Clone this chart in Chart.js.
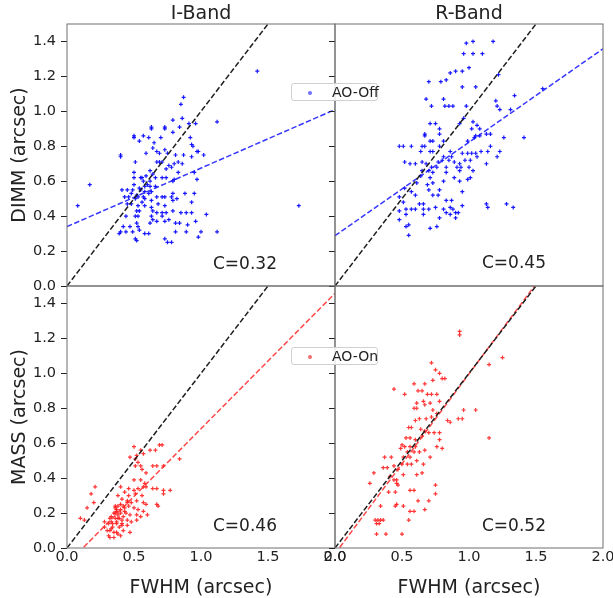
<!DOCTYPE html>
<html lang="en">
<head>
<meta charset="UTF-8">
<title>FWHM vs DIMM / MASS seeing</title>
<script src="https://cdn.jsdelivr.net/npm/chart.js"></script>
<style>
  body { margin: 0; background: #fff; }
  #figure { position: relative; width: 613px; height: 598px; font-family: "DejaVu Sans", sans-serif; color: #222; overflow: hidden; }
  #figure canvas { position: absolute; left: 0; top: 0; }
  .txt { position: absolute; white-space: nowrap; line-height: 1; }
  .big { font-size: 19px; transform: translate(-50%, -50%); }
  .rot { font-size: 19px; transform: translate(-50%, -50%) rotate(-90deg); }
  .corr { font-size: 17px; transform: translateY(-50%); }
  .legend { position: absolute; width: 87px; height: 18px; box-sizing: border-box; border: 1px solid #d0d0d0; border-radius: 3px; background: rgba(255,255,255,0.85); font-size: 14px; white-space: nowrap; }
  .legend .dot { position: absolute; left: 16px; top: 7px; width: 4px; height: 4px; border-radius: 50%; }
  .legend .lbl { position: absolute; left: 40px; top: 0px; line-height: 16px; }
</style>
</head>
<body>
<div id="figure">
  <canvas id="iOff" width="613" height="598"></canvas>
  <canvas id="rOff" width="613" height="598"></canvas>
  <canvas id="iOn" width="613" height="598"></canvas>
  <canvas id="rOn" width="613" height="598"></canvas>

  <div class="txt big" style="left:201px; top:12px;">I-Band</div>
  <div class="txt big" style="left:469px; top:12px;">R-Band</div>
  <div class="txt rot" style="left:18px; top:155px;">DIMM (arcsec)</div>
  <div class="txt rot" style="left:18px; top:417px;">MASS (arcsec)</div>
  <div class="txt big" style="left:201px; top:586px;">FWHM (arcsec)</div>
  <div class="txt big" style="left:469px; top:586px;">FWHM (arcsec)</div>

  <div class="legend" style="left:291px; top:83px;"><span class="dot" style="background:#7070ff;"></span><span class="lbl">AO-Off</span></div>
  <div class="legend" style="left:291px; top:347px;"><span class="dot" style="background:#f07070;"></span><span class="lbl">AO-On</span></div>
</div>
<script>
// [FWHM, seeing] pairs in arcsec
const iBandAoOff = [
  [0.08,0.46],[0.17,0.58],[1.42,1.23],[1.73,0.46],[1.12,0.94],[1.12,0.31],[1.04,0.41],
  [0.87,1.08],[0.85,1.04],[0.96,0.93],[0.91,0.93],[0.84,0.91],[0.79,0.95],[0.73,0.90],[0.63,0.90],
  [0.79,0.88],[0.50,0.85],[0.54,0.83],[0.61,0.85],[0.65,0.82],[0.70,0.85],[0.93,0.81],[0.94,0.80],
  [0.64,0.79],[0.67,0.77],[0.73,0.78],[0.75,0.76],[0.69,0.76],[0.59,0.76],[0.40,0.74],[0.81,0.75],
  [0.87,0.75],[0.93,0.74],[0.97,0.77],[1.02,0.75],[0.67,0.71],[0.69,0.71],[0.71,0.71],[0.76,0.69],
  [0.80,0.70],[0.83,0.71],[0.86,0.70],[0.51,0.71],[0.78,0.68],[0.74,0.67],[0.83,0.65],[0.95,0.65],
  [0.62,0.66],[0.64,0.64],[0.59,0.63],[0.56,0.62],[0.50,0.65],[0.50,0.62],[0.66,0.62],[0.71,0.62],
  [0.74,0.62],[0.80,0.61],[0.79,0.60],[0.97,0.61],[0.41,0.55],[0.45,0.55],[0.49,0.55],[0.54,0.56],
  [0.58,0.57],[0.62,0.57],[0.66,0.57],[0.61,0.53],[0.63,0.54],[0.57,0.51],[0.53,0.51],[0.51,0.50],
  [0.46,0.51],[0.43,0.51],[0.58,0.50],[0.63,0.49],[0.67,0.51],[0.71,0.51],[0.73,0.51],[0.78,0.51],
  [0.79,0.53],[0.88,0.53],[0.95,0.53],[0.68,0.47],[0.73,0.46],[0.79,0.49],[0.82,0.50],[0.93,0.48],
  [0.45,0.47],[0.48,0.47],[0.53,0.46],[0.58,0.46],[0.52,0.43],[0.54,0.43],[0.63,0.45],[0.64,0.43],
  [0.71,0.42],[0.74,0.42],[0.67,0.42],[0.79,0.43],[0.85,0.42],[0.89,0.42],[0.93,0.42],[0.44,0.40],
  [0.51,0.40],[0.53,0.40],[0.63,0.40],[0.64,0.38],[0.71,0.40],[0.73,0.37],[0.67,0.37],[0.76,0.38],
  [0.52,0.36],[0.62,0.36],[0.81,0.36],[0.84,0.36],[0.47,0.34],[0.53,0.34],[0.54,0.32],[0.58,0.30],
  [0.39,0.30],[0.44,0.31],[0.49,0.31],[0.61,0.30],[0.73,0.27],[0.51,0.27],[0.81,0.31],[1.00,0.31],
  [0.98,0.28],[0.42,0.34],[0.90,0.35],[0.96,0.37],[0.52,0.26],[0.75,0.25],[0.78,0.25],[0.89,0.31],
  [0.40,0.31],[0.40,0.75],[0.50,0.86],[0.57,0.86],[0.63,0.91],[0.73,0.91],[0.86,0.96],[0.92,0.85],
  [0.98,0.77],[0.55,0.55],[0.57,0.60],[0.52,0.52],[0.60,0.58],[0.58,0.54],[0.55,0.62],[0.62,0.60],
  [0.50,0.58],[0.48,0.53],[0.56,0.48]
];
const rBandAoOff = [
  [0.98,1.39],[1.03,1.40],[1.18,1.40],[0.96,1.33],[1.03,1.33],[1.10,1.33],[1.00,1.25],[0.95,1.23],
  [0.90,1.23],[0.86,1.22],[0.83,1.18],[0.79,1.17],[0.70,1.17],[0.95,1.14],[1.05,1.14],[1.22,1.21],
  [0.68,1.07],[0.81,1.07],[0.72,1.03],[0.82,1.03],[0.85,1.03],[0.88,1.03],[0.98,1.03],[1.20,1.06],
  [1.21,1.03],[1.34,1.09],[1.23,1.01],[1.31,1.01],[0.96,0.96],[0.71,0.93],[0.75,0.93],[0.93,0.93],
  [1.03,0.94],[1.06,0.92],[1.02,0.90],[0.78,0.90],[1.08,0.90],[0.67,0.87],[0.78,0.87],[0.67,0.86],
  [1.05,0.86],[1.13,0.87],[1.16,0.87],[1.26,0.85],[1.41,0.85],[0.71,0.83],[0.73,0.83],[0.81,0.83],
  [0.99,0.83],[1.04,0.85],[1.08,0.86],[0.48,0.80],[0.51,0.80],[0.57,0.80],[0.65,0.80],[0.67,0.80],
  [0.78,0.80],[1.16,0.80],[0.64,0.77],[0.71,0.77],[0.73,0.77],[0.86,0.77],[0.95,0.76],[0.99,0.76],
  [1.02,0.76],[1.05,0.76],[1.09,0.77],[1.14,0.77],[1.23,0.77],[0.81,0.74],[0.87,0.74],[1.06,0.74],
  [1.21,0.74],[0.52,0.71],[0.56,0.70],[0.60,0.70],[0.65,0.71],[0.68,0.70],[0.77,0.71],[0.80,0.72],
  [0.85,0.72],[0.89,0.71],[0.93,0.70],[0.97,0.72],[1.01,0.72],[1.13,0.70],[0.72,0.68],[0.76,0.68],
  [0.83,0.68],[0.91,0.68],[0.94,0.68],[1.00,0.68],[0.65,0.66],[0.70,0.66],[0.73,0.65],[0.83,0.65],
  [0.93,0.66],[1.03,0.66],[0.64,0.63],[0.71,0.62],[0.89,0.62],[0.99,0.61],[1.01,0.62],[0.61,0.59],
  [0.73,0.59],[0.81,0.60],[0.93,0.60],[0.69,0.58],[0.70,0.55],[0.78,0.55],[0.95,0.54],[0.52,0.56],
  [0.57,0.54],[0.73,0.52],[0.77,0.52],[0.48,0.51],[0.60,0.52],[0.51,0.48],[0.63,0.47],[0.66,0.47],
  [0.83,0.49],[0.87,0.49],[0.53,0.44],[0.57,0.44],[0.60,0.44],[0.66,0.44],[0.70,0.44],[0.75,0.45],
  [0.81,0.44],[0.86,0.45],[0.88,0.44],[0.95,0.46],[1.13,0.47],[1.14,0.45],[1.28,0.47],[1.33,0.45],
  [0.48,0.43],[0.53,0.41],[0.66,0.41],[0.83,0.42],[0.86,0.41],[0.90,0.39],[0.78,0.39],[0.48,0.38],
  [0.53,0.34],[0.55,0.35],[0.71,0.33],[0.76,0.34],[0.55,0.29],[0.90,0.42],[0.92,0.42],[1.55,1.13]
];
const iBandAoOn = [
  [0.50,0.58],[0.55,0.56],[0.57,0.54],[0.62,0.56],[0.66,0.56],[0.69,0.59],[0.71,0.59],[0.47,0.52],
  [0.51,0.51],[0.53,0.49],[0.51,0.47],[0.55,0.47],[0.56,0.45],[0.59,0.43],[0.64,0.47],[0.67,0.47],
  [0.72,0.47],[0.84,0.51],[0.50,0.39],[0.55,0.39],[0.58,0.37],[0.59,0.35],[0.57,0.35],[0.53,0.34],
  [0.64,0.34],[0.67,0.34],[0.72,0.33],[0.77,0.33],[0.72,0.31],[0.40,0.35],[0.43,0.32],[0.46,0.34],
  [0.50,0.33],[0.51,0.31],[0.46,0.30],[0.56,0.30],[0.38,0.30],[0.41,0.28],[0.45,0.27],[0.48,0.26],
  [0.52,0.27],[0.57,0.26],[0.59,0.25],[0.67,0.25],[0.38,0.24],[0.42,0.24],[0.46,0.24],[0.50,0.23],
  [0.53,0.22],[0.57,0.21],[0.36,0.23],[0.35,0.20],[0.37,0.21],[0.40,0.20],[0.43,0.21],[0.47,0.19],
  [0.52,0.19],[0.55,0.18],[0.32,0.17],[0.36,0.17],[0.38,0.17],[0.41,0.16],[0.45,0.16],[0.48,0.15],
  [0.31,0.14],[0.34,0.14],[0.37,0.14],[0.41,0.13],[0.45,0.13],[0.28,0.12],[0.30,0.10],[0.33,0.11],
  [0.37,0.09],[0.42,0.10],[0.31,0.07],[0.35,0.06],[0.40,0.07],[0.47,0.09],[0.32,0.06],[0.28,0.15],
  [0.21,0.35],[0.18,0.31],[0.20,0.26],[0.15,0.23],[0.10,0.17],[0.13,0.16],[0.52,0.53],[0.33,0.18],
  [0.36,0.20],[0.38,0.19],[0.40,0.22],[0.37,0.15],[0.39,0.12],[0.34,0.12],[0.42,0.18],[0.36,0.24],
  [0.40,0.25],[0.44,0.20],[0.35,0.09],[0.38,0.08],[0.33,0.15],[0.41,0.14],[0.37,0.22],[0.39,0.17],
  [0.43,0.23],[0.45,0.26],[0.32,0.10],[0.68,0.24],[0.60,0.19],[0.52,0.16]
];
const rBandAoOn = [
  [0.93,1.24],[0.93,1.22],[1.25,1.09],[1.15,1.05],[0.72,1.06],[0.75,1.02],[0.78,1.00],[0.80,0.97],
  [0.82,0.97],[0.73,0.96],[0.67,0.94],[0.59,0.94],[0.44,0.91],[0.62,0.90],[0.65,0.90],[0.69,0.88],
  [0.72,0.88],[0.76,0.88],[0.52,0.88],[0.61,0.83],[0.66,0.84],[0.67,0.82],[0.71,0.83],[0.78,0.84],
  [0.59,0.80],[0.61,0.80],[0.73,0.79],[0.76,0.77],[0.96,0.79],[1.05,0.79],[0.92,0.74],[0.95,0.74],
  [0.84,0.73],[0.86,0.72],[0.63,0.74],[0.68,0.74],[0.72,0.75],[0.60,0.73],[0.55,0.69],[0.57,0.69],
  [0.64,0.68],[0.67,0.67],[0.70,0.66],[0.74,0.66],[0.78,0.66],[0.53,0.63],[0.56,0.63],[0.60,0.62],
  [0.65,0.64],[0.78,0.62],[1.15,0.63],[0.50,0.59],[0.52,0.58],[0.56,0.58],[0.60,0.58],[0.76,0.58],
  [0.80,0.57],[0.49,0.57],[0.54,0.55],[0.59,0.55],[0.63,0.55],[0.67,0.56],[0.71,0.52],[0.42,0.52],
  [0.37,0.52],[0.51,0.52],[0.56,0.52],[0.61,0.50],[0.50,0.48],[0.54,0.48],[0.57,0.48],[0.66,0.48],
  [0.36,0.46],[0.39,0.46],[0.44,0.47],[0.47,0.45],[0.51,0.42],[0.61,0.42],[0.65,0.43],[0.29,0.43],
  [0.41,0.41],[0.44,0.39],[0.46,0.39],[0.26,0.37],[0.46,0.37],[0.47,0.36],[0.40,0.32],[0.45,0.32],
  [0.56,0.33],[0.59,0.33],[0.75,0.36],[0.75,0.31],[0.62,0.27],[0.70,0.27],[0.46,0.25],[0.45,0.24],
  [0.51,0.24],[0.56,0.21],[0.59,0.21],[0.67,0.22],[0.34,0.24],[0.55,0.16],[0.30,0.16],[0.32,0.16],
  [0.34,0.16],[0.36,0.16],[0.33,0.14],[0.31,0.14],[0.31,0.08],[0.38,0.08],[0.50,0.08]
];

// linear fits (seeing = a + b * FWHM) and correlation per panel: I-off, R-off, I-on, R-on
const fitIntercept = [0.34, 0.288, -0.092, -0.033];
const fitSlope = [0.335, 0.535, 0.775, 1.03];
const corrC = ['0.32', '0.45', '0.46', '0.52'];

const xTicks = [0, 0.5, 1.0, 1.5, 2.0];
const yTicks = [0, 0.2, 0.4, 0.6, 0.8, 1.0, 1.2, 1.4];

const W = 613, H = 598;
const tickFont = { family: 'DejaVu Sans', size: 14.5 };

// axes frame drawn on all four sides
const frame = {
  id: 'frame',
  afterDraw(chart) {
    const { ctx, chartArea: a } = chart;
    ctx.save();
    ctx.strokeStyle = '#6e6e6e';
    ctx.lineWidth = 1;
    ctx.strokeRect(a.left, a.top, a.right - a.left, a.bottom - a.top);
    ctx.restore();
  }
};

function dashed(data, color) {
  return {
    type: 'line', data, showLine: true, pointRadius: 0, borderColor: color,
    borderWidth: 1.5, borderDash: [5.5, 2.4], fill: false, order: 0
  };
}

function makePanel(id, points, k, pointColor, lineColor, area, yLabels, xLabels) {
  const [left, top, right, bottom] = area;
  const yW = yLabels ? left - 2 : 8;
  const xH = xLabels ? 22 : 0;
  const fit = [0, 2].map(x => ({ x, y: fitIntercept[k] + fitSlope[k] * x }));

  new Chart(document.getElementById(id), {
    type: 'scatter',
    data: {
      datasets: [
        dashed([{ x: 0, y: 0 }, { x: 2, y: 2 }], '#1e1e1e'),
        dashed(fit, lineColor),
        {
          data: points.map(([x, y]) => ({ x, y })),
          pointStyle: 'cross', pointRadius: 2, pointBorderWidth: 1.2,
          pointBorderColor: pointColor, borderColor: pointColor, order: 1
        }
      ]
    },
    options: {
      responsive: false,
      animation: false,
      events: [],
      layout: { padding: { left: left - yW, top: top, right: W - right, bottom: H - bottom - xH } },
      plugins: { legend: { display: false }, tooltip: { enabled: false } },
      scales: {
        x: {
          type: 'linear', min: 0, max: 2, display: xLabels,
          border: { display: false },
          grid: { display: false, drawTicks: false },
          ticks: { font: tickFont, color: '#222', padding: 1, callback: v => v.toFixed(1) },
          afterBuildTicks: s => { s.ticks = xTicks.map(v => ({ value: v })); },
          afterFit: s => { s.height = xH; s.paddingLeft = 0; s.paddingRight = 0; }
        },
        y: {
          type: 'linear', min: 0, max: 1.5,
          border: { display: false },
          grid: { drawOnChartArea: false, drawTicks: true, tickLength: 6, tickColor: '#222', color: '#222' },
          ticks: { display: yLabels, font: tickFont, color: '#222', padding: 5, callback: v => v.toFixed(1) },
          afterBuildTicks: s => { s.ticks = yTicks.map(v => ({ value: v })); },
          afterFit: s => { s.width = yW; s.paddingTop = 0; s.paddingBottom = 0; }
        }
      }
    },
    plugins: [frame]
  });
}

const blue = 'rgba(0,0,255,0.9)', red = 'rgba(255,20,20,0.85)';
makePanel('iOff', iBandAoOff, 0, blue, 'rgba(20,20,255,0.85)', [67, 24, 335, 286], true, false);
makePanel('rOff', rBandAoOff, 1, blue, 'rgba(20,20,255,0.85)', [335, 24, 603, 286], false, false);
makePanel('iOn', iBandAoOn, 2, red, 'rgba(255,40,40,0.85)', [67, 286, 335, 548], true, true);
makePanel('rOn', rBandAoOn, 3, red, 'rgba(255,40,40,0.85)', [335, 286, 603, 548], false, true);

// correlation labels
const corrPos = [[213, 263], [482, 262], [213, 525], [482, 525]];
const fig = document.getElementById('figure');
corrC.forEach((c, i) => {
  const d = document.createElement('div');
  d.className = 'txt corr';
  d.style.left = corrPos[i][0] + 'px';
  d.style.top = corrPos[i][1] + 'px';
  d.textContent = 'C=' + c;
  fig.appendChild(d);
});
</script>
</body>
</html>
